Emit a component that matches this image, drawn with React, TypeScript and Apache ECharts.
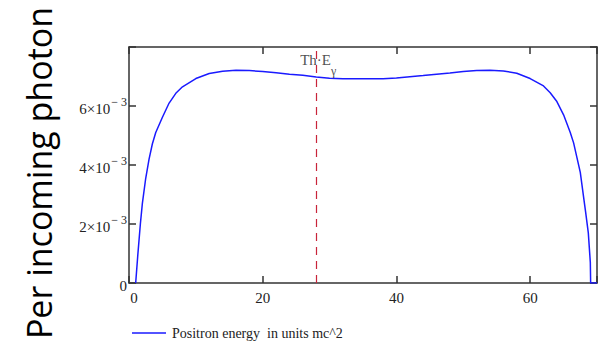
import React, { useEffect, useRef } from "react";
import * as echarts from "echarts";

// Positron energy (units of mc^2)
const energy = [
  1, 1.3, 1.7, 2, 2.5, 3, 3.5, 4, 5, 6, 7, 8, 10, 12, 14, 16, 18, 20, 22, 24, 26, 28, 30,
  32, 34, 36, 38, 40, 42, 44, 46, 48, 50, 52, 54, 56, 58, 60, 62, 63, 64, 65, 66, 66.5,
  67, 67.5, 68, 68.3, 68.7, 69, 69.05, 70,
];
// Per incoming photon (×10^-3)
const perPhoton = [
  0, 0.9, 2.0, 2.7, 3.55, 4.2, 4.72, 5.1, 5.62, 6.1, 6.43, 6.65, 6.93, 7.1, 7.18, 7.21,
  7.2, 7.17, 7.13, 7.08, 7.04, 6.98, 6.94, 6.92, 6.92, 6.92, 6.92, 6.95, 6.99, 7.03,
  7.08, 7.12, 7.17, 7.2, 7.21, 7.19, 7.11, 6.93, 6.68, 6.45, 6.15, 5.7, 5.1, 4.75, 4.25,
  3.75, 2.9, 2.4, 1.7, 0.7, 0, 0,
];
const thresholdEnergy = 28; // Th·Eγ
const thresholdLabelY = 7.4; // ×10^-3
const xTicks = [0, 20, 40, 60];
const yTicks = [0, 2, 4, 6];
const seriesName = "Positron energy  in units mc^2";
const yTitle = "Per incoming photon";

const SERIF = "'Liberation Serif', 'Times New Roman', serif";

export default function App() {
  const ref = useRef<HTMLDivElement>(null);
  useEffect(() => {
    if (!ref.current) return;
    const chart = echarts.init(ref.current, undefined, { renderer: "svg" });
    const data = energy.map((e, i) => [e, perPhoton[i] * 1e-3]);
    const axisLineStyle = { color: "#333", width: 1.5 };
    const tickStyle = { color: "#333", width: 1.5 };
    chart.setOption({
      animation: false,
      backgroundColor: "#fff",
      grid: { left: 129, right: 5, top: 47, bottom: 60, containLabel: false },
      xAxis: [
        {
          type: "value",
          min: 0,
          max: 70,
          interval: 20,
          position: "bottom",
          axisLine: { show: true, onZero: false, lineStyle: axisLineStyle },
          axisTick: { show: true, inside: true, length: 7, lineStyle: tickStyle },
          splitLine: { show: false },
          axisLabel: {
            margin: 7,
            fontFamily: SERIF,
            fontSize: 15,
            color: "#222",
            formatter: (v: number) =>
              xTicks.includes(v) ? (v === 0 ? "{z|0}" : String(v)) : "",
            rich: { z: { fontFamily: SERIF, fontSize: 15, color: "#222", padding: [0, 0, 0, 10] } },
          },
        },
        {
          type: "value",
          min: 0,
          max: 70,
          interval: 20,
          position: "top",
          axisLine: { show: true, onZero: false, lineStyle: axisLineStyle },
          axisTick: { show: true, inside: true, length: 7, lineStyle: tickStyle },
          splitLine: { show: false },
          axisLabel: { show: false },
        },
      ],
      yAxis: [
        {
          type: "value",
          min: 0,
          max: 8e-3,
          interval: 2e-3,
          position: "left",
          axisLine: { show: true, onZero: false, lineStyle: axisLineStyle },
          axisTick: { show: true, inside: true, length: 7, lineStyle: tickStyle },
          splitLine: { show: false },
          axisLabel: {
            margin: 2,
            formatter: (v: number) => {
              const n = Math.round(v * 1000);
              if (!yTicks.includes(n)) return "";
              return n === 0 ? "{m|0}" : `{m|${n}×10}{sup|− 3}`;
            },
            rich: {
              m: { fontFamily: SERIF, fontSize: 15, color: "#222", lineHeight: 20, verticalAlign: "bottom", padding: [6, 0, 0, 0] },
              sup: { fontFamily: SERIF, fontSize: 12, color: "#222", lineHeight: 14, verticalAlign: "top", padding: [0, 0, 0, 1] },
            },
          },
        },
        {
          type: "value",
          min: 0,
          max: 8e-3,
          interval: 2e-3,
          position: "right",
          axisLine: { show: true, onZero: false, lineStyle: axisLineStyle },
          axisTick: { show: true, inside: true, length: 7, lineStyle: tickStyle },
          splitLine: { show: false },
          axisLabel: { show: false },
        },
      ],
      legend: {
        show: true,
        left: 132,
        top: 326,
        padding: 0,
        itemWidth: 34,
        itemHeight: 1.5,
        itemGap: 6,
        icon: "rect",
        textStyle: { fontFamily: SERIF, fontSize: 14, color: "#222", padding: [0, 0, 0, 1] },
        data: [{ name: seriesName, icon: "rect" }],
      },
      graphic: [
        {
          type: "text",
          x: 39,
          y: 173,
          rotation: Math.PI / 2,
          style: {
            text: yTitle,
            fontFamily: "'Open Sans', sans-serif",
            fontSize: 34,
            fill: "#000",
            align: "center",
            verticalAlign: "middle",
          },
        },
      ],
      series: [
        {
          name: seriesName,
          type: "line",
          z: 2,
          data,
          showSymbol: false,
          symbol: "none",
          lineStyle: { color: "#1a1aff", width: 1.5 },
          itemStyle: { color: "#1a1aff" },
          markLine: {
            silent: true,
            symbol: "none",
            label: { show: false },
            lineStyle: { color: "#c8243a", width: 1.2, type: [8, 6] },
            data: [{ xAxis: thresholdEnergy }],
          },
        },
        {
          name: "threshold-label",
          type: "scatter",
          z: 10,
          data: [[thresholdEnergy, thresholdLabelY * 1e-3]],
          symbolSize: 0,
          silent: true,
          label: {
            show: true,
            position: "inside",
            offset: [2, 0],
            color: "#222",
            formatter: "{a|Th·E}{s|γ}",
            rich: {
              a: { fontFamily: SERIF, fontSize: 15, color: "#222", lineHeight: 18, verticalAlign: "top" },
              s: { fontFamily: SERIF, fontSize: 12, color: "#222", lineHeight: 24, verticalAlign: "bottom" },
            },
          },
        },
      ],
    });
    return () => chart.dispose();
  }, []);
  return <div ref={ref} style={{ width: 602, height: 343, position: "absolute", left: 0, top: 0 }} />;
}
